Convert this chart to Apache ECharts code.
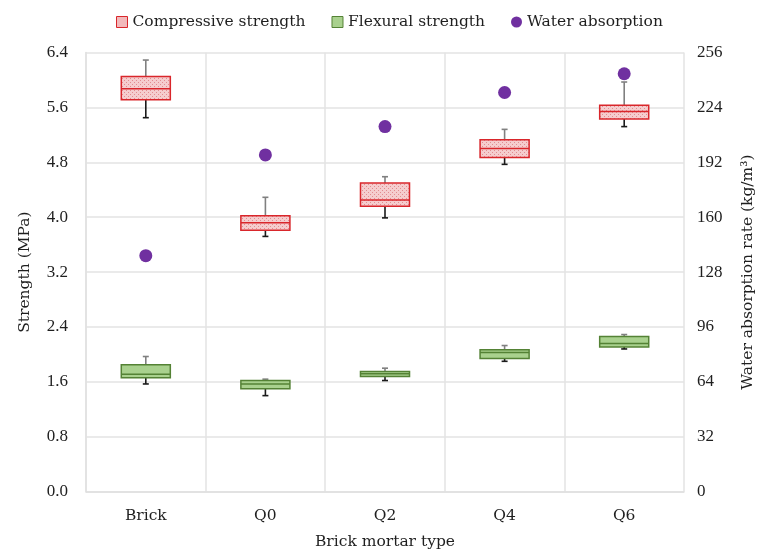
<!DOCTYPE html>
<html>
<head>
<meta charset="utf-8">
<script src="https://cdn.jsdelivr.net/npm/echarts@6/dist/echarts.min.js"></script>
<style>
  html, body { margin: 0; padding: 0; background: #fff; }
  #chart { width: 761px; height: 553px; }
</style>
</head>
<body>
<div id="chart"></div>
<script>
// Mortar types on the x axis
const categories = ['Brick', 'Q0', 'Q2', 'Q4', 'Q6'];

// Box statistics per type: [lower whisker, Q1, median, Q3, upper whisker] (MPa)
const compressive = [
  [5.45, 5.71, 5.87, 6.05, 6.29],
  [3.72, 3.81, 3.92, 4.02, 4.29],
  [3.99, 4.16, 4.25, 4.50, 4.59],
  [4.77, 4.87, 5.00, 5.13, 5.28],
  [5.32, 5.43, 5.54, 5.63, 5.97]
];
const flexural = [
  [1.57, 1.66, 1.71, 1.85, 1.97],
  [1.40, 1.50, 1.57, 1.62, 1.64],
  [1.62, 1.68, 1.72, 1.75, 1.80],
  [1.90, 1.94, 2.03, 2.07, 2.13],
  [2.08, 2.11, 2.16, 2.26, 2.29]
];

// Water absorption rate (kg/m³)
const waterAbsorption = [137.6, 196.3, 212.8, 232.7, 243.6];

// Axis ticks
const strengthTicks = { min: 0, max: 6.4, interval: 0.8 };
const waterTicks = { min: 0, max: 256, interval: 32 };

const TEXT_FONT = '"DejaVu Serif", "Liberation Serif", serif';
const NUM_FONT = '"Liberation Serif", "DejaVu Serif", serif';
const TEXT = '#1f1f1f';

// Dotted pink fill for the compressive boxes
function dotPattern(bg, dot) {
  const c = document.createElement('canvas');
  c.width = 4; c.height = 4;
  const g = c.getContext('2d');
  g.fillStyle = bg; g.fillRect(0, 0, 4, 4);
  g.fillStyle = dot;
  g.fillRect(0, 0, 1, 1);
  g.fillRect(2, 2, 1, 1);
  return c;
}
const pinkPattern = { image: dotPattern('#f5cdce', '#e28c90'), repeat: 'repeat' };

function boxRenderer(fill, stroke) {
  return function (params, api) {
    const idx = api.value(0);
    const lo = api.coord([idx, api.value(1)]);
    const q1 = api.coord([idx, api.value(2)]);
    const med = api.coord([idx, api.value(3)]);
    const q3 = api.coord([idx, api.value(4)]);
    const hi = api.coord([idx, api.value(5)]);
    const band = api.size([1, 0])[0];
    const w = band * 0.41;
    const x = lo[0];
    const cap = 3;
    return {
      type: 'group',
      children: [
        { type: 'line', shape: { x1: x, y1: q3[1], x2: x, y2: hi[1] },
          style: { stroke: '#808080', lineWidth: 1.6 } },
        { type: 'line', shape: { x1: x - cap, y1: hi[1], x2: x + cap, y2: hi[1] },
          style: { stroke: '#808080', lineWidth: 1.6 } },
        { type: 'line', shape: { x1: x, y1: q1[1], x2: x, y2: lo[1] },
          style: { stroke: '#1a1a1a', lineWidth: 1.6 } },
        { type: 'line', shape: { x1: x - cap, y1: lo[1], x2: x + cap, y2: lo[1] },
          style: { stroke: '#1a1a1a', lineWidth: 1.6 } },
        { type: 'rect', shape: { x: x - w / 2, y: q3[1], width: w, height: q1[1] - q3[1] },
          style: { fill: fill, stroke: stroke, lineWidth: 1.5 } },
        { type: 'line', shape: { x1: x - w / 2, y1: med[1], x2: x + w / 2, y2: med[1] },
          style: { stroke: stroke, lineWidth: 1.5 } }
      ]
    };
  };
}

const chart = echarts.init(document.getElementById('chart'), null, { renderer: 'canvas' });

chart.setOption({
  animation: false,
  textStyle: { fontFamily: TEXT_FONT, color: TEXT },
  legend: {
    top: 9,
    left: 111,
    itemGap: 26,
    itemWidth: 11,
    itemHeight: 11,
    textStyle: { fontFamily: TEXT_FONT, fontSize: 15.5, color: TEXT },
    data: [
      { name: 'Compressive strength', icon: 'rect',
        itemStyle: { color: '#f2b9bb', borderColor: '#d9262b', borderWidth: 1 } },
      { name: 'Flexural strength', icon: 'rect',
        itemStyle: { color: '#a9d18e', borderColor: '#548235', borderWidth: 1 } },
      { name: 'Water absorption', icon: 'circle',
        itemStyle: { color: '#7030a0' } }
    ]
  },
  grid: { left: 86, right: 77, top: 52.5, bottom: 61.3, outerBoundsMode: 'none', containLabel: false },
  xAxis: {
    type: 'category',
    data: categories,
    boundaryGap: true,
    name: 'Brick mortar type',
    nameLocation: 'middle',
    nameGap: 42,
    nameTextStyle: { fontFamily: TEXT_FONT, fontSize: 15.5, color: TEXT },
    axisLine: { show: true, lineStyle: { color: '#e0e0e0', width: 1.5 } },
    axisTick: { show: false },
    axisLabel: { fontFamily: TEXT_FONT, fontSize: 15.5, color: TEXT, margin: 16 },
    splitLine: { show: true, lineStyle: { color: '#e3e3e3', width: 1.5 } }
  },
  yAxis: [
    {
      type: 'value',
      min: strengthTicks.min, max: strengthTicks.max, interval: strengthTicks.interval,
      name: 'Strength (MPa)',
      nameLocation: 'middle',
      nameGap: 53,
      nameTextStyle: { fontFamily: TEXT_FONT, fontSize: 15.5, color: TEXT },
      axisLine: { show: true, lineStyle: { color: '#e0e0e0', width: 1.5 } },
      axisTick: { show: false },
      axisLabel: { fontFamily: NUM_FONT, fontSize: 17, color: TEXT, margin: 18,
        formatter: v => v.toFixed(1) },
      splitLine: { show: true, lineStyle: { color: '#e3e3e3', width: 1.5 } }
    },
    {
      type: 'value',
      position: 'right',
      min: waterTicks.min, max: waterTicks.max, interval: waterTicks.interval,
      name: 'Water absorption rate (kg/m³)',
      nameLocation: 'middle',
      nameGap: 56,
      nameTextStyle: { fontFamily: TEXT_FONT, fontSize: 15.5, color: TEXT },
      axisLine: { show: false },
      axisTick: { show: false },
      axisLabel: { fontFamily: NUM_FONT, fontSize: 17, color: TEXT, margin: 13 },
      splitLine: { show: false }
    }
  ],
  series: [
    {
      name: 'Compressive strength',
      type: 'custom',
      yAxisIndex: 0,
      itemStyle: { color: '#f2b9bb' },
      renderItem: boxRenderer(pinkPattern, '#d9262b'),
      encode: { x: 0, y: [1, 2, 3, 4, 5] },
      data: compressive.map((s, i) => [i].concat(s))
    },
    {
      name: 'Flexural strength',
      type: 'custom',
      yAxisIndex: 0,
      itemStyle: { color: '#a9d18e' },
      renderItem: boxRenderer('#a9d18e', '#548235'),
      encode: { x: 0, y: [1, 2, 3, 4, 5] },
      data: flexural.map((s, i) => [i].concat(s))
    },
    {
      name: 'Water absorption',
      type: 'scatter',
      yAxisIndex: 1,
      symbol: 'circle',
      symbolSize: 13,
      itemStyle: { color: '#7030a0', opacity: 1 },
      data: waterAbsorption.map((v, i) => [i, v])
    }
  ]
});
</script>
</body>
</html>
